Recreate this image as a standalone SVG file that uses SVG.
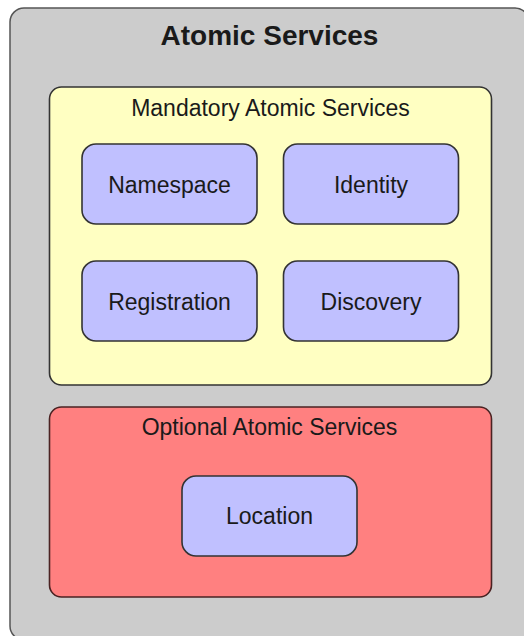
<svg xmlns="http://www.w3.org/2000/svg" width="524" height="636" viewBox="0 0 524 636">
<style>
text{font-family:"Liberation Sans",Arial,Helvetica,sans-serif;fill:#1a1a1a;text-anchor:middle}
.t{font-size:28px;font-weight:bold}
.l{font-size:23px}
.outer{fill:#cccccc;stroke:#555;stroke-width:1.5}
.mand{fill:#ffffc2;stroke:#333;stroke-width:1.6}
.opt{fill:#ff8080;stroke:#4a2222;stroke-width:1.6}
.svc{fill:#c0c0ff;stroke:#333;stroke-width:1.6}
</style>
<g id="atomic-services">
<rect class="outer" x="10" y="8" width="519" height="632" rx="14"/>
<text class="t" x="269.5" y="45">Atomic Services</text>
</g>
<g id="mandatory">
<rect class="mand" x="49.5" y="87" width="442" height="298" rx="12"/>
<text class="l" x="270.5" y="116">Mandatory Atomic Services</text>
</g>
<g id="namespace">
<rect class="svc" x="82" y="144" width="175" height="80" rx="14"/>
<text class="l" x="169.5" y="193">Namespace</text>
</g>
<g id="identity">
<rect class="svc" x="283.5" y="144" width="175" height="80" rx="14"/>
<text class="l" x="371" y="193">Identity</text>
</g>
<g id="registration">
<rect class="svc" x="82" y="261" width="175" height="80" rx="14"/>
<text class="l" x="169.5" y="310">Registration</text>
</g>
<g id="discovery">
<rect class="svc" x="283.5" y="261" width="175" height="80" rx="14"/>
<text class="l" x="371" y="310">Discovery</text>
</g>
<g id="optional">
<rect class="opt" x="49.5" y="407" width="442" height="190" rx="12"/>
<text class="l" x="269.5" y="435">Optional Atomic Services</text>
</g>
<g id="location">
<rect class="svc" x="182" y="476" width="175" height="80" rx="14"/>
<text class="l" x="269.5" y="524">Location</text>
</g>
<g id="connectors"/>
</svg>
